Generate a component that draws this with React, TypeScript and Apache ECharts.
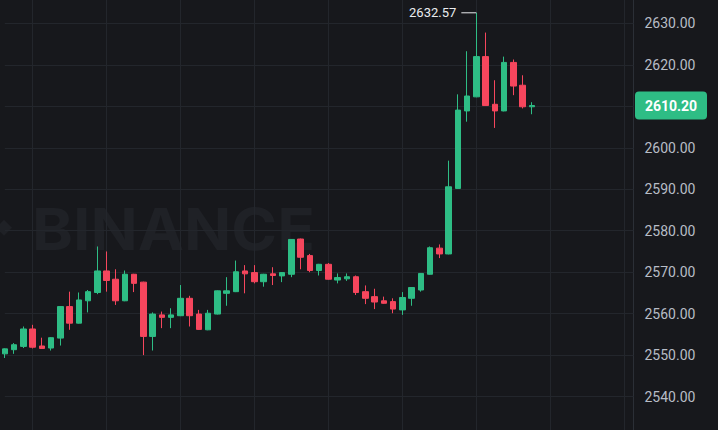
import React, { useEffect, useRef } from "react";
import * as echarts from "echarts";

// OHLC values (1 candle per slot)
const opens = [
  2550.3, 2551.3, 2552.1, 2556.3, 2552.2, 2551.7, 2554.1, 2561.7, 2557.7, 2563.1,
  2565.1, 2570.3, 2568.3, 2563.1, 2569.5, 2567.6, 2554.5, 2559.7, 2559.1, 2559.5,
  2563.7, 2559.9, 2556.1, 2559.9, 2564.9, 2565.3, 2570.3, 2569.9, 2567.7, 2569.6,
  2569.1, 2569.5, 2578.0, 2574.0, 2570.4, 2571.9, 2568.1, 2568.4, 2568.9, 2565.3,
  2564.1, 2563.1, 2562.9, 2560.9, 2563.7, 2565.7, 2569.5, 2575.8, 2574.4, 2590.2,
  2608.9, 2612.3, 2622.0, 2610.5, 2608.9, 2620.6, 2615.1, 2609.9,
];
const closes = [
  2551.5, 2552.5, 2556.3, 2551.9, 2551.6, 2554.2, 2561.7, 2557.7, 2563.3, 2565.3,
  2570.3, 2568.0, 2563.1, 2569.5, 2567.3, 2554.5, 2559.9, 2559.1, 2559.7, 2563.7,
  2559.5, 2556.2, 2560.1, 2565.5, 2565.5, 2570.1, 2569.6, 2567.7, 2569.5, 2569.2,
  2569.9, 2577.9, 2573.6, 2570.4, 2571.9, 2568.3, 2568.7, 2568.9, 2565.1, 2563.7,
  2562.8, 2562.5, 2561.1, 2563.9, 2566.3, 2569.7, 2575.9, 2574.4, 2590.6, 2609.1,
  2612.5, 2622.0, 2610.2, 2608.9, 2620.6, 2614.9, 2609.9, 2610.2,
];
const lows = [
  2549.3, 2550.3, 2551.7, 2551.6, 2551.6, 2551.1, 2552.3, 2556.1, 2557.6, 2560.3,
  2564.7, 2565.3, 2562.1, 2563.0, 2565.2, 2550.0, 2551.1, 2556.5, 2556.5, 2559.4,
  2556.9, 2556.1, 2556.0, 2559.8, 2561.9, 2565.2, 2564.9, 2567.3, 2566.5, 2566.9,
  2567.6, 2568.8, 2570.7, 2570.0, 2569.2, 2568.2, 2567.3, 2567.9, 2564.5, 2562.3,
  2561.1, 2562.4, 2560.1, 2559.7, 2561.9, 2565.3, 2569.4, 2573.4, 2574.3, 2590.1,
  2606.3, 2612.2, 2610.1, 2604.8, 2608.8, 2612.7, 2609.5, 2608.1,
];
const highs = [
  2551.6, 2552.9, 2556.9, 2557.3, 2554.2, 2554.3, 2561.8, 2565.3, 2565.1, 2565.7,
  2576.2, 2575.0, 2570.7, 2570.4, 2569.6, 2567.7, 2560.3, 2560.5, 2561.3, 2566.9,
  2564.3, 2560.9, 2560.9, 2565.6, 2568.8, 2572.8, 2571.7, 2571.7, 2569.6, 2571.2,
  2570.0, 2578.0, 2578.1, 2574.4, 2572.0, 2572.2, 2569.7, 2569.7, 2569.2, 2566.8,
  2566.0, 2564.1, 2563.7, 2565.2, 2566.4, 2569.8, 2576.2, 2576.7, 2596.9, 2612.9,
  2623.3, 2632.57, 2627.8, 2616.3, 2622.0, 2621.3, 2617.5, 2611.0,
];

const TOTAL_SLOTS = 69;
const categories = Array.from({ length: TOTAL_SLOTS }, (_, i) => String(i + 1));

const Y_MIN = 2530;
const Y_MAX = 2640;
const Y_STEP = 10;

const UP = "#2ebd85";
const DOWN = "#f6465d";
const BG = "#17181c";
const GRID = "#23262c";

// chart canvas is taller than the window; it is shifted up so the 2530..2640 scale fits
const SHIFT = 18.2;
const CHART_H = 456.4;
const AXIS_X = 633.5;

export default function App() {
  const ref = useRef<HTMLDivElement>(null);
  useEffect(() => {
    const chart = echarts.init(ref.current!, undefined, { renderer: "svg" });
    const data = opens.map((o, i) => [o, closes[i], lows[i], highs[i]]);
    const last = closes[closes.length - 1];
    const baseGraphic: any[] = [
      {
        type: "polygon",
        z: -5,
        silent: true,
        shape: {
          points: [
            [-4, 227.5 + SHIFT],
            [4, 219.5 + SHIFT],
            [12, 227.5 + SHIFT],
            [4, 235.5 + SHIFT],
          ],
        },
        style: { fill: "#1f2126" },
      },
      {
        type: "text",
        z: -5,
        silent: true,
        x: 32,
        y: 229 + SHIFT,
        scaleX: 1.07,
        style: {
          text: "BINANCE",
          fill: "#1f2126",
          font: "bold 58px Inter",
          verticalAlign: "middle",
          align: "left",
        },
      },
      {
        type: "line",
        silent: true,
        shape: { x1: AXIS_X, y1: 0, x2: AXIS_X, y2: CHART_H },
        style: { stroke: "#2b2f36", lineWidth: 1 },
      },
    ];
    chart.setOption({
      animation: false,
      backgroundColor: BG,
      textStyle: { fontFamily: "Roboto" },
      graphic: baseGraphic,
      grid: {
        left: 4.8,
        right: 718 - AXIS_X,
        top: 0,
        bottom: 0,
        containLabel: false,
        outerBoundsMode: "none",
      },
      xAxis: {
        type: "category",
        data: categories,
        boundaryGap: false,
        axisLine: { show: false },
        axisTick: { show: false },
        axisLabel: { show: false },
        splitLine: {
          show: true,
          interval: (i: number) => i % 8 === 3,
          lineStyle: { color: GRID, width: 1 },
        },
      },
      yAxis: {
        type: "value",
        position: "right",
        min: Y_MIN,
        max: Y_MAX,
        interval: Y_STEP,
        axisLine: { show: false },
        axisTick: { show: false },
        axisLabel: {
          color: "#b7bdc6",
          fontSize: 14,
          margin: 11,
          formatter: (v: number) =>
            Math.abs(v - last) < 5 || v === Y_MIN || v === Y_MAX ? "" : v.toFixed(2),
        },
        splitLine: { show: true, lineStyle: { color: GRID, width: 1 } },
      },
      series: [
        {
          type: "candlestick",
          data,
          barWidth: 6,
          clip: false,
          itemStyle: {
            color: UP,
            color0: DOWN,
            borderColor: UP,
            borderColor0: DOWN,
            borderWidth: 1,
          },
          markPoint: {
            silent: true,
            symbol: "rect",
            symbolSize: [15, 1],
            symbolOffset: [-7.5, 0],
            itemStyle: { color: "#eaecef" },
            label: {
              show: true,
              position: "left",
              distance: 5,
              color: "#eaecef",
              fontSize: 13,
              formatter: (p: any) => Number(p.value).toFixed(2),
            },
            data: [{ type: "max", valueDim: "highest" }],
          },
        },
      ],
    });
    // current-price tag on the price axis, placed through the axis scale
    const py = chart.convertToPixel({ yAxisIndex: 0 }, last) as number;
    chart.setOption({
      graphic: [
        ...baseGraphic,
        {
          type: "group",
          silent: true,
          z: 10,
          x: AXIS_X + 1.5,
          y: py,
          children: [
            {
              type: "rect",
              shape: { x: 0, y: -14, width: 72, height: 28, r: 4 },
              style: { fill: UP },
            },
            {
              type: "text",
              x: 36,
              y: 0,
              style: {
                text: last.toFixed(2),
                fill: "#ffffff",
                font: "bold 14px Roboto",
                align: "center",
                verticalAlign: "middle",
              },
            },
          ],
        },
      ],
    });
    return () => chart.dispose();
  }, []);
  return (
    <div
      style={{
        position: "fixed",
        left: 0,
        top: 0,
        width: 718,
        height: 430,
        overflow: "hidden",
        background: BG,
      }}
    >
      <div
        ref={ref}
        style={{ position: "absolute", left: 0, top: -SHIFT, width: 718, height: CHART_H }}
      />
    </div>
  );
}
